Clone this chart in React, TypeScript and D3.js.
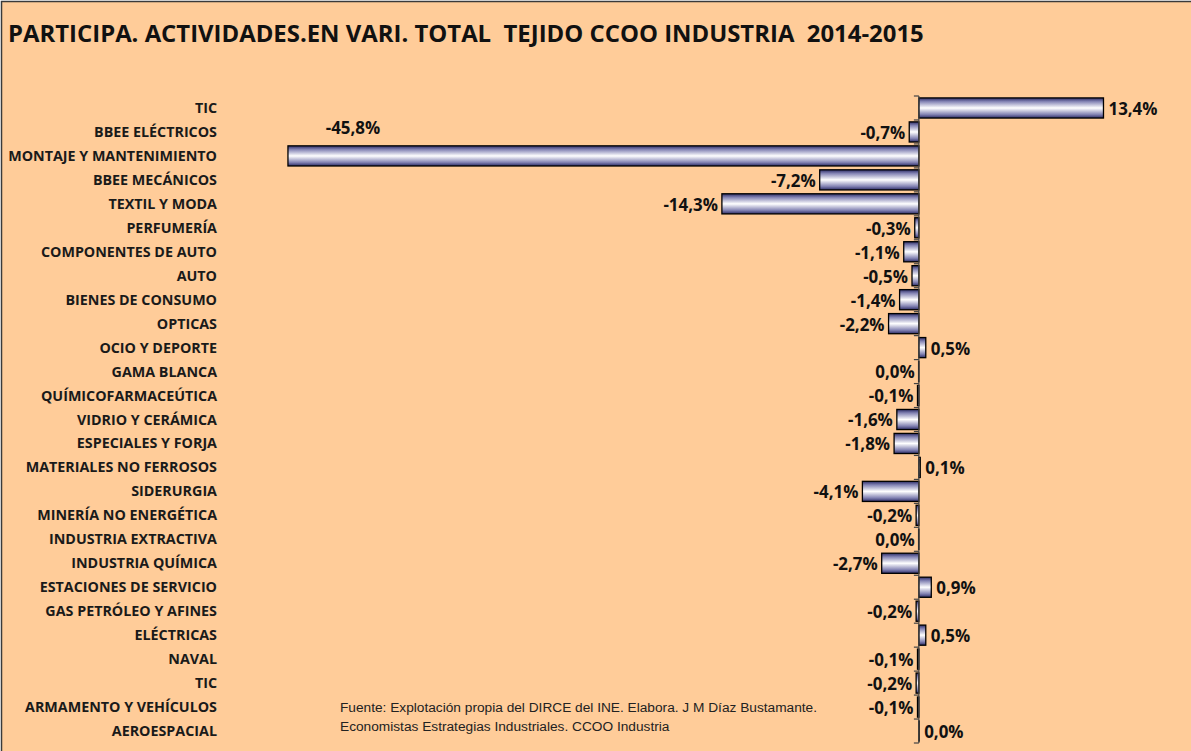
import React, { useEffect, useRef } from 'react';
import * as d3 from 'd3';

const title = 'PARTICIPA. ACTIVIDADES.EN VARI. TOTAL  TEJIDO CCOO INDUSTRIA  2014-2015';

const categories = [
  'TIC', 'BBEE ELÉCTRICOS', 'MONTAJE Y MANTENIMIENTO', 'BBEE MECÁNICOS', 'TEXTIL Y MODA',
  'PERFUMERÍA', 'COMPONENTES DE AUTO', 'AUTO', 'BIENES DE CONSUMO', 'OPTICAS',
  'OCIO Y DEPORTE', 'GAMA BLANCA', 'QUÍMICOFARMACEÚTICA', 'VIDRIO Y CERÁMICA', 'ESPECIALES Y FORJA',
  'MATERIALES NO FERROSOS', 'SIDERURGIA', 'MINERÍA NO ENERGÉTICA', 'INDUSTRIA EXTRACTIVA', 'INDUSTRIA QUÍMICA',
  'ESTACIONES DE SERVICIO', 'GAS PETRÓLEO Y AFINES', 'ELÉCTRICAS', 'NAVAL', 'TIC',
  'ARMAMENTO Y VEHÍCULOS', 'AEROESPACIAL',
];

// variation in %, tiny signs kept so the 0,0% labels fall on the right side
const values = [
  13.4, -0.7, -45.8, -7.2, -14.3,
  -0.3, -1.1, -0.5, -1.4, -2.2,
  0.5, -0.02, -0.1, -1.6, -1.8,
  0.1, -4.1, -0.2, -0.02, -2.7,
  0.9, -0.2, 0.5, -0.1, -0.2,
  -0.1, 0.02,
];

const sourceLines = [
  'Fuente: Explotación propia del DIRCE del INE. Elabora. J M Díaz Bustamante.',
  'Economistas Estrategias Industriales. CCOO Industria',
];

const W = 1191;
const H = 751;

const fmt = (v: number) => {
  const s = Math.abs(v) < 0.05 ? '0.0' : v.toFixed(1);
  return s.replace('.', ',') + '%';
};

export default function App() {
  const svgRef = useRef<SVGSVGElement>(null);

  useEffect(() => {
    if (!svgRef.current) return;
    const svg = d3.select(svgRef.current);
    svg.selectAll('*').remove();

    const font = '"Open Sans", Lato, sans-serif';

    // gradient for the bars
    const defs = svg.append('defs');
    const grad = defs.append('linearGradient')
      .attr('id', 'barGrad')
      .attr('x1', 0).attr('y1', 0).attr('x2', 0).attr('y2', 1);
    [
      [0, '#2c2c66'], [0.18, '#8484b4'], [0.5, '#ffffff'], [0.82, '#8484b4'], [1, '#2c2c66'],
    ].forEach(([o, c]) => grad.append('stop').attr('offset', o as number).attr('stop-color', c as string));

    // background + frame
    svg.append('rect')
      .attr('x', 1.5).attr('y', 1.5)
      .attr('width', W + 10).attr('height', H + 10)
      .attr('fill', '#ffcc99')
      .attr('stroke', '#3a3a3a')
      .attr('stroke-width', 1.5);

    svg.append('text')
      .attr('x', 8).attr('y', 42)
      .attr('font-family', font)
      .attr('font-weight', 700)
      .attr('font-size', 23.9)
      .attr('fill', '#111')
      .style('white-space', 'pre')
      .text(title);

    const x = d3.scaleLinear().domain([-50, 20]).range([230.1, 1194.4]);
    const y = d3.scaleBand<number>()
      .domain(d3.range(categories.length))
      .range([96, 743])
      .paddingInner(0.16)
      .paddingOuter(0.08);

    const x0 = x(0);
    const step = y.step();

    // category labels
    svg.append('g')
      .selectAll('text')
      .data(categories)
      .join('text')
      .attr('x', 217)
      .attr('y', (_, i) => (y(i) as number) + y.bandwidth() / 2)
      .attr('dy', '0.35em')
      .attr('text-anchor', 'end')
      .attr('font-family', font)
      .attr('font-weight', 700)
      .attr('font-size', 14.3)
      .attr('fill', '#1a1a1a')
      .text(d => d);

    // bars
    svg.append('g')
      .selectAll('rect')
      .data(values)
      .join('rect')
      .attr('x', d => x(Math.min(0, d)))
      .attr('y', (_, i) => y(i) as number)
      .attr('width', d => Math.abs(x(d) - x0))
      .attr('height', y.bandwidth())
      .attr('fill', 'url(#barGrad)')
      .attr('stroke', '#000')
      .attr('stroke-width', 1.3);

    // axis line with tick marks between categories
    const axis = svg.append('g').attr('stroke', '#444').attr('stroke-width', 1.2);
    const top = y.range()[0];
    axis.append('line')
      .attr('x1', x0).attr('x2', x0)
      .attr('y1', top).attr('y2', top + step * categories.length);
    d3.range(categories.length + 1).forEach(i => {
      axis.append('line')
        .attr('x1', x0 - 5).attr('x2', x0)
        .attr('y1', top + i * step).attr('y2', top + i * step);
    });

    // value labels (the -45,8% one was moved up in the original)
    svg.append('g')
      .selectAll('text')
      .data(values)
      .join('text')
      .attr('x', (d, i) => i === 2 ? x(d) + 65 : d > 0 ? x(d) + 5 : x(d) - 4)
      .attr('y', (_, i) => (y(i) as number) + y.bandwidth() / 2 + (i === 2 ? -28 : 1))
      .attr('dy', '0.35em')
      .attr('text-anchor', (d, i) => i === 2 ? 'middle' : d > 0 ? 'start' : 'end')
      .attr('font-family', font)
      .attr('font-weight', 700)
      .attr('font-size', 16.9)
      .attr('fill', '#111')
      .text(d => fmt(d));

    // source
    svg.append('g')
      .selectAll('text')
      .data(sourceLines)
      .join('text')
      .attr('x', 340)
      .attr('y', (_, i) => 712 + i * 19)
      .attr('font-family', '"Liberation Sans", Arial, sans-serif')
      .attr('font-size', 13.7)
      .attr('fill', '#222')
      .text(d => d);
  }, []);

  return (
    <svg
      ref={svgRef}
      width={W}
      height={H}
      style={{ position: 'absolute', left: 0, top: 0, display: 'block' }}
    />
  );
}
